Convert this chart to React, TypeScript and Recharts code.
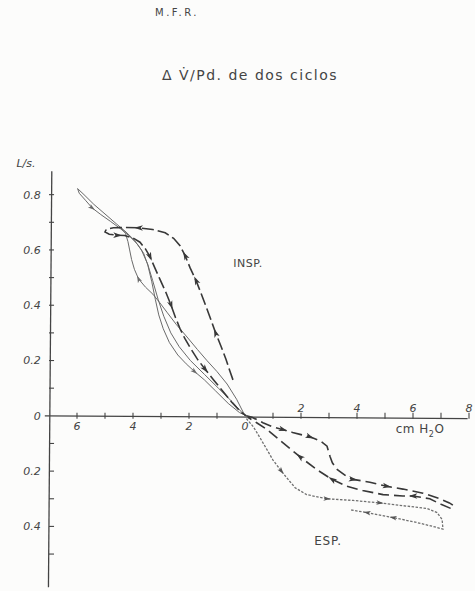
import React from 'react';
import { ComposedChart, Line, XAxis, YAxis, ReferenceLine, ReferenceDot } from 'recharts';

type P = { x: number; y: number };
const pts = (arr: number[][]): P[] => arr.map(([x, y]) => ({ x, y }));

// Inspiration, cycle 1 (dark dashed loop)
const inspDashed = pts([
  [-0.43, 0.13], [-0.55, 0.165], [-0.68, 0.205], [-0.85, 0.25], [-1.05, 0.3], [-1.28, 0.365],
  [-1.52, 0.43], [-1.75, 0.49], [-1.96, 0.535], [-2.14, 0.58], [-2.32, 0.615], [-2.55, 0.642],
  [-2.85, 0.662], [-3.3, 0.674], [-3.8, 0.68], [-4.3, 0.681], [-4.7, 0.68], [-4.95, 0.675],
  [-5.0, 0.665], [-4.85, 0.657], [-4.55, 0.653], [-4.3, 0.652], [-4.0, 0.643], [-3.75, 0.628],
  [-3.55, 0.603], [-3.39, 0.575], [-3.22, 0.535], [-3.02, 0.49], [-2.82, 0.445], [-2.64, 0.4],
  [-2.48, 0.355], [-2.32, 0.315], [-2.15, 0.28], [-1.95, 0.245], [-1.7, 0.205], [-1.42, 0.168],
  [-1.12, 0.13], [-0.8, 0.09], [-0.48, 0.05], [-0.15, 0.014], [0.05, 0],
]);
const inspDashedArrows = [4, 7, 9, 14, 20, 25, 29, 35];

// Inspiration, long thin loop to the top left
const inspThinLong = pts([
  [0, 0], [-0.45, 0.05], [-0.95, 0.1], [-1.45, 0.15], [-1.95, 0.2], [-2.35, 0.25], [-2.65, 0.3],
  [-2.9, 0.36], [-3.1, 0.42], [-3.3, 0.49], [-3.48, 0.55], [-3.7, 0.6], [-3.95, 0.635],
  [-4.25, 0.665], [-4.6, 0.695], [-5.0, 0.73], [-5.4, 0.765], [-5.75, 0.8], [-5.98, 0.822],
  [-5.92, 0.805], [-5.7, 0.78], [-5.46, 0.752], [-5.15, 0.728], [-4.8, 0.703], [-4.45, 0.677],
  [-4.15, 0.652], [-3.85, 0.622], [-3.62, 0.588], [-3.47, 0.545], [-3.33, 0.485], [-3.2, 0.42],
  [-3.08, 0.365], [-2.92, 0.315], [-2.7, 0.265], [-2.4, 0.22], [-2.1, 0.188], [-1.8, 0.16],
  [-1.45, 0.13], [-1.05, 0.09], [-0.6, 0.045], [-0.2, 0.012], [0.05, 0],
]);
const inspThinLongArrows = [21, 36];

// Inspiration, thin inner branch
const inspThinInner = pts([
  [0, 0], [-0.3, 0.06], [-0.64, 0.115], [-1.0, 0.16], [-1.36, 0.2], [-1.7, 0.24], [-2.07, 0.285],
  [-2.45, 0.33], [-2.79, 0.375], [-3.05, 0.41], [-3.29, 0.44], [-3.55, 0.465], [-3.8, 0.495],
  [-3.95, 0.53], [-4.05, 0.565], [-4.12, 0.6], [-4.18, 0.63], [-4.27, 0.66], [-4.42, 0.68],
]);
const inspThinInnerArrows = [12];

// Expiration, dark dashed loop
const espDashed = pts([
  [0.05, 0], [0.25, -0.005], [0.64, -0.025], [1.0, -0.04], [1.36, -0.05], [1.7, -0.06],
  [2.0, -0.068], [2.32, -0.076], [2.68, -0.09], [2.93, -0.11], [3.04, -0.148], [3.12, -0.17],
  [3.3, -0.195], [3.64, -0.22], [3.86, -0.23], [4.46, -0.24], [5.07, -0.255], [5.64, -0.265],
  [6.36, -0.28], [6.96, -0.3], [7.3, -0.315], [7.45, -0.325], [7.35, -0.335], [7.0, -0.32],
  [6.6, -0.3], [6.0, -0.29], [5.64, -0.29], [4.93, -0.285], [4.2, -0.27], [3.64, -0.255],
  [3.11, -0.23], [2.57, -0.195], [1.96, -0.148], [1.36, -0.098], [0.79, -0.05], [0.43, -0.026],
  [0.1, -0.005],
]);
const espDashedArrows = [4, 7, 14, 16, 25, 30, 32];

// Expiration, dotted lower loop
const espDotted = pts([
  [0.05, -0.01], [0.3, -0.04], [0.54, -0.08], [0.8, -0.125], [1.0, -0.16], [1.3, -0.2],
  [1.54, -0.23], [1.79, -0.26], [2.2, -0.285], [2.93, -0.3], [3.86, -0.306], [4.82, -0.315],
  [5.64, -0.325], [6.5, -0.335], [6.86, -0.35], [7.04, -0.375], [7.07, -0.41], [6.71, -0.4],
  [6.14, -0.386], [5.29, -0.368], [4.36, -0.35], [3.75, -0.34],
]);
const espDottedArrows = [5, 9, 11, 19, 20];

const xTicksLeft = [-6, -4, -2, 0];
const xTicksRight = [2, 4, 6, 8];
const xMinor = [-6, -5, -4, -3, -2, -1, 1, 2, 3, 4, 5, 6, 7, 8];
const yTickLabels = [0.8, 0.6, 0.4, 0.2, 0, -0.2, -0.4];
const yMinor = [0.8, 0.7, 0.6, 0.5, 0.4, 0.3, 0.2, 0.1, -0.1, -0.2, -0.3, -0.4, -0.5];

const W = 475;
const H = 591;
const X_DOMAIN: [number, number] = [-7.3, 8];
const Y_DOMAIN: [number, number] = [-0.63, 0.9];
const MARGIN = { top: 167, right: 6, bottom: 1, left: 40.6 };
const SX = (W - MARGIN.left - MARGIN.right) / (X_DOMAIN[1] - X_DOMAIN[0]);
const SY = (H - MARGIN.top - MARGIN.bottom) / (Y_DOMAIN[1] - Y_DOMAIN[0]);
const Y_AXIS_X = -6.9;

const INK = '#383838';
const GREY = '#6a6a6a';
const FONT = '"DejaVu Sans", sans-serif';

const arrowDot = (data: P[], idx: number[], color: string, size = 1) => (props: any) => {
  const { cx, cy, index } = props;
  if (!idx.includes(index) || cx == null || cy == null) return <g key={`n${index}`} />;
  const a = data[index];
  const b = data[Math.min(index + 1, data.length - 1)];
  const ang = (Math.atan2(-(b.y - a.y) * SY, (b.x - a.x) * SX) * 180) / Math.PI;
  const l = 3.6 * size;
  const w = 2.3 * size;
  return (
    <path
      key={`a${index}`}
      d={`M${l} 0 L${-l} ${-w} L${-l * 0.5} 0 L${-l} ${w} Z`}
      fill={color}
      transform={`translate(${cx},${cy}) rotate(${ang})`}
    />
  );
};

const txt = (s: any, cx: number, cy: number, style: React.CSSProperties = {}) => (
  <div
    style={{
      position: 'absolute',
      left: cx,
      top: cy,
      transform: 'translate(-50%,-50%)',
      whiteSpace: 'nowrap',
      lineHeight: 1,
      fontFamily: FONT,
      color: '#444',
      ...style,
    }}
  >
    {s}
  </div>
);

const labelStyle = { fill: '#444', fontSize: 11, fontFamily: FONT, fontStyle: 'italic' as const };

export default function App() {
  return (
    <div style={{ position: 'absolute', left: 0, top: 0, width: W, height: H, background: '#fcfcfb', overflow: 'hidden' }}>
      <ComposedChart width={W} height={H} margin={MARGIN}>
        <XAxis type="number" dataKey="x" domain={X_DOMAIN} hide allowDataOverflow />
        <YAxis type="number" domain={Y_DOMAIN} hide allowDataOverflow />
        {/* axes */}
        <ReferenceLine segment={[{ x: -7.15, y: 0 }, { x: 7.95, y: -0.01 }]} stroke="#444" strokeWidth={1.3} ifOverflow="visible" />
        <ReferenceLine segment={[{ x: Y_AXIS_X, y: 0.885 }, { x: Y_AXIS_X - 0.12, y: -0.62 }]} stroke="#444" strokeWidth={1.3} ifOverflow="visible" />
        {xMinor.map((v) => (
          <ReferenceLine key={`xt${v}`} segment={[{ x: v, y: -0.011 }, { x: v, y: 0.011 }]} stroke="#444" strokeWidth={1.1} ifOverflow="visible" />
        ))}
        {yMinor.map((v) => (
          <ReferenceLine key={`yt${v}`} segment={[{ x: Y_AXIS_X - 0.1, y: v }, { x: Y_AXIS_X + 0.08, y: v }]} stroke="#444" strokeWidth={1.1} ifOverflow="visible" />
        ))}
        {xTicksLeft.map((v) => (
          <ReferenceDot key={`xl${v}`} x={v} y={0} r={1} fill="none" stroke="none" ifOverflow="visible"
            label={{ value: String(Math.abs(v)), position: 'bottom', offset: 5, ...labelStyle }} />
        ))}
        {xTicksRight.map((v) => (
          <ReferenceDot key={`xr${v}`} x={v} y={0} r={1} fill="none" stroke="none" ifOverflow="visible"
            label={{ value: String(Math.abs(v)), position: 'top', offset: 3, ...labelStyle }} />
        ))}
        {yTickLabels.map((v) => (
          <ReferenceDot key={`yl${v}`} x={Y_AXIS_X} y={v} r={1} fill="none" stroke="none" ifOverflow="visible"
            label={{ value: v === 0 ? '0' : Math.abs(v).toFixed(1), position: 'left', offset: 10, ...labelStyle }} />
        ))}
        {/* curves */}
        <Line data={inspThinLong} dataKey="y" type="linear" stroke={GREY} strokeWidth={1}
          dot={arrowDot(inspThinLong, inspThinLongArrows, GREY)} activeDot={false} isAnimationActive={false} />
        <Line data={inspThinInner} dataKey="y" type="linear" stroke={GREY} strokeWidth={1}
          dot={arrowDot(inspThinInner, inspThinInnerArrows, GREY)} activeDot={false} isAnimationActive={false} />
        <Line data={inspDashed} dataKey="y" type="linear" stroke={INK} strokeWidth={1.6} strokeDasharray="12 4"
          dot={arrowDot(inspDashed, inspDashedArrows, INK, 1.2)} activeDot={false} isAnimationActive={false} />
        <Line data={espDotted} dataKey="y" type="linear" stroke="#707070" strokeWidth={1.3} strokeDasharray="2.5 1.5"
          dot={arrowDot(espDotted, espDottedArrows, '#555')} activeDot={false} isAnimationActive={false} />
        <Line data={espDashed} dataKey="y" type="linear" stroke={INK} strokeWidth={1.6} strokeDasharray="11 5"
          dot={arrowDot(espDashed, espDashedArrows, INK, 1.2)} activeDot={false} isAnimationActive={false} />
      </ComposedChart>
      {txt('M.F.R.', 177, 13, { fontSize: 10, letterSpacing: 2.5 })}
      {txt('Δ  V̇/Pd. de dos ciclos', 250, 75, { fontSize: 14, letterSpacing: 1.5 })}
      {txt('L/s.', 26, 163, { fontSize: 11, fontStyle: 'italic' })}
      {txt('INSP.', 248, 263, { fontSize: 11, letterSpacing: 0.5 })}
      {txt('ESP.', 328, 541, { fontSize: 12, letterSpacing: 0.8 })}
      {txt(<span>cm H<sub style={{ fontSize: 8 }}>2</sub>O</span>, 420, 431, { fontSize: 12, letterSpacing: 0.5 })}
    </div>
  );
}
